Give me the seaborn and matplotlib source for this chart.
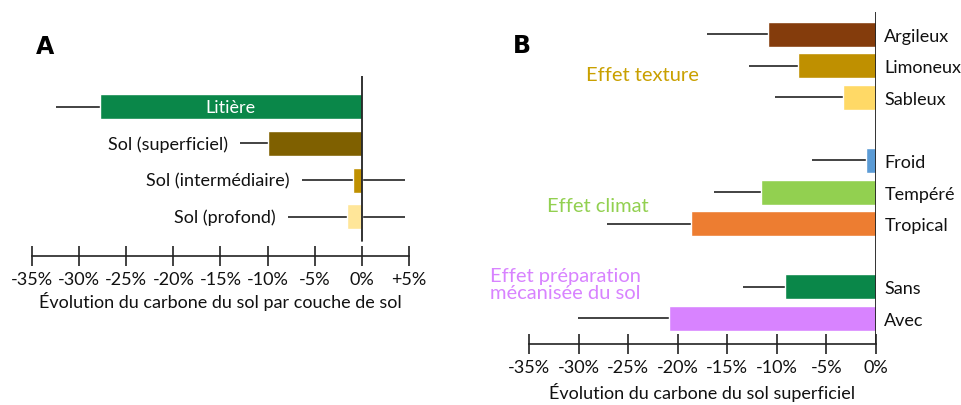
import numpy as np
import pandas as pd
import seaborn as sns
import matplotlib.pyplot as plt

# panel A: carbon change per soil layer (%)
layers = ["Litière", "Sol (superficiel)", "Sol (intermédiaire)", "Sol (profond)"]
layer_values = [-27.8, -10.0, -0.9, -1.6]
layer_low = [-32.5, -12.9, -6.4, -7.8]
layer_high = [0.0, 0.0, 4.6, 4.6]
layer_colors = ["#0A8749", "#7F6000", "#BF9000", "#FFE699"]

# panel B: topsoil carbon change by factor (%)
factors = ["Argileux", "Limoneux", "Sableux", "Froid", "Tempéré", "Tropical", "Sans", "Avec"]
factor_values = [-10.9, -7.9, -3.3, -1.0, -11.6, -18.7, -9.2, -20.9]
factor_low = [-17.0, -12.8, -10.2, -6.5, -16.3, -27.1, -13.4, -30.1]
factor_colors = ["#843C0C", "#BF9000", "#FFD966", "#5B9BD5", "#92D050", "#ED7D31", "#0A8749", "#D883FF"]
factor_order = ["Argileux", "Limoneux", "Sableux", " ", "Froid", "Tempéré", "Tropical", "  ", "Sans", "Avec"]
groups = ["Effet texture", "Effet climat", "Effet préparation\nmécanisée du sol"]
group_colors = ["#C9A000", "#92D050", "#D883FF"]

FS = 13

sns.set_theme(style="white")
plt.rcParams["font.family"] = ["Lato", "DejaVu Sans"]
plt.rcParams["font.size"] = FS
plt.rcParams["text.color"] = "#111111"
plt.rcParams["xtick.color"] = "#111111"
plt.rcParams["ytick.color"] = "#111111"
plt.rcParams["axes.labelcolor"] = "#111111"

fig = plt.figure(figsize=(9.62, 4.06), dpi=100)
axA = fig.add_axes([32 / 962, 149 / 406, 377 / 962, 180 / 406])
axB = fig.add_axes([529 / 962, 61 / 406, 347 / 962, 332 / 406])


def style_axis(ax, lo, hi, ticks, labels):
    for s in ["top", "right", "left"]:
        ax.spines[s].set_visible(False)
    ax.spines["bottom"].set_bounds(lo, hi)
    ax.spines["bottom"].set_color("#222222")
    ax.spines["bottom"].set_linewidth(1.2)
    ax.set_xticks(ticks)
    ax.set_xticklabels(labels)
    ax.tick_params(axis="x", bottom=True, direction="inout", length=15, width=1.2,
                   color="#222222", labelsize=FS, pad=3)
    ax.set_ylabel("")


# ---- panel A ----
dfA = pd.DataFrame({"layer": layers, "value": layer_values})
sns.barplot(data=dfA, x="value", y="layer", hue="layer", palette=layer_colors,
            order=layers, legend=False, width=0.68, saturation=1, ax=axA, zorder=3)
axA.set_xlim(-35, 5)
axA.set_ylim(4.06, -0.83)
axA.set_yticks([])
for i, p in enumerate(axA.patches):
    yc = p.get_y() + p.get_height() / 2
    axA.hlines(yc, layer_low[i], layer_high[i], color="#222222", lw=1.2, zorder=2)
    if i == 0:
        axA.text(layer_values[i] / 2, yc, layers[i], color="white", ha="center",
                 va="center", fontsize=FS, zorder=4)
    else:
        axA.text(layer_low[i] - 1.3, yc, layers[i], color="#111111", ha="right",
                 va="center", fontsize=FS)
axA.axvline(0, ymin=0.083, ymax=1, color="#222222", lw=1.3, zorder=4)
style_axis(axA, -35, 5, range(-35, 6, 5),
           [f"{v}%" if v <= 0 else f"+{v}%" for v in range(-35, 6, 5)])
axA.set_xlabel("Évolution du carbone du sol par couche de sol", fontsize=FS, labelpad=3)
fig.text(36 / 962, 1 - 47 / 406, "A", fontsize=17, fontweight="bold", va="center",
         family="DejaVu Sans", color="black")

# ---- panel B ----
dfB = pd.DataFrame({"factor": factors, "value": factor_values})
sns.barplot(data=dfB, x="value", y="factor", hue="factor", palette=factor_colors,
            order=factor_order, hue_order=factors, legend=False, width=0.79,
            saturation=1, ax=axB, zorder=3)
axB.set_xlim(-35, 0)
axB.set_ylim(9.81, -0.70)
bars = [p for p in axB.patches if p.get_width() != 0]
for i, p in enumerate(bars):
    yc = p.get_y() + p.get_height() / 2
    axB.hlines(yc, factor_low[i], factor_values[i], color="#222222", lw=1.2, zorder=2)
axB.yaxis.tick_right()
axB.tick_params(axis="y", length=0, pad=6, labelsize=FS)
axB.axvline(0, color="#222222", lw=1.3, zorder=4)
style_axis(axB, -35, 0, range(-35, 1, 5), [f"{v}%" for v in range(-35, 1, 5)])
axB.set_xlabel("Évolution du carbone du sol superficiel", fontsize=FS, labelpad=5)

group_pos = [(-17.9, 1.27), (-22.9, 5.41), (-23.7, 7.9)]
for g, c, (gx, gy) in zip(groups, group_colors, group_pos):
    axB.text(gx, gy, g, color=c, ha="right", va="center", fontsize=14.5,
             multialignment="left", linespacing=1.0)
fig.text(513 / 962, 1 - 46 / 406, "B", fontsize=17, fontweight="bold", va="center",
         family="DejaVu Sans", color="black")

fig.savefig("out.png", dpi=100)
